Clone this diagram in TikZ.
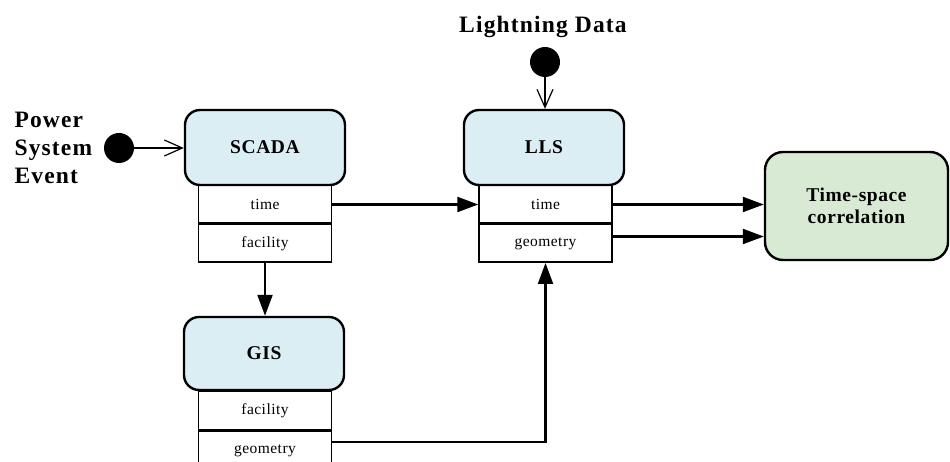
\documentclass[tikz,border=0pt]{standalone}
\usepackage{fontspec}
\setmainfont[LetterSpace=3]{Liberation Serif}
\newfontfamily\labelfont[LetterSpace=5]{Liberation Serif}
\usetikzlibrary{arrows.meta,calc}
\definecolor{boxblue}{HTML}{DAEEF3}
\definecolor{boxgreen}{HTML}{D8EAD3}
\begin{document}
\begin{tikzpicture}[x=1pt,y=-1pt,
 statebox/.style={draw, line width=2.4pt, rounded corners=15pt, fill=boxblue, minimum width=160pt, minimum height=75pt, inner sep=0pt, font=\bfseries\fontsize{19.5}{22}\selectfont},
 field/.style={draw, line width=1.5pt, fill=white, minimum width=133pt, minimum height=37.5pt, inner sep=0pt, font=\fontsize{15.5}{17}\selectfont},
 flow/.style={line width=2.2pt, -{Triangle[length=21pt,width=15pt]}},
 startdot/.style={circle, fill=black, minimum size=30pt, inner sep=0pt},
 trig/.style={line width=1.2pt, -{Straight Barb[length=18pt,width=16pt]}},
 biglabel/.style={font=\labelfont\bfseries\fontsize{23.5}{28}\selectfont}
]
\useasboundingbox (0,0) rectangle (950,462);
% SCADA
\node[field, anchor=north] (st) at (265,185) {time};
\node[field, anchor=north] (sf) at (st.south) {facility};
\node[statebox] (scada) at (265,147.5) {SCADA};
% LLS
\node[field, anchor=north] (lt) at (545.5,185) {time};
\node[field, anchor=north] (lg) at (lt.south) {geometry};
\node[statebox] (lls) at (544,147.5) {LLS};
% GIS
\node[field, anchor=north, minimum height=39pt] (gf) at (265,390) {facility};
\node[field, anchor=north, minimum height=39pt] (gg) at (gf.south) {geometry};
\node[statebox, minimum height=73pt] (gis) at (264,353.5) {GIS};
% Time-space correlation
\node[statebox, fill=boxgreen, minimum width=183pt, minimum height=108pt, align=center, rounded corners=18pt] (tsc) at (856.5,206) {Time-space\\correlation};
% initial events
\node[biglabel, align=left, anchor=west] (pse) at (11,148) {Power\\System\\Event};
\node[startdot] (pdot) at (119,148) {};
\node[biglabel] (ld) at (543,27) {Lightning Data};
\node[startdot] (ldot) at (545,62) {};
\draw[trig] (pdot) -- (pdot -| scada.west);
\draw[trig] (ldot) -- (ldot |- lls.north);
% flows
\draw[flow] (st.east) -- (st.east -| lt.west);
\draw[flow] (sf.south) -- (sf.south |- gis.north);
\draw[flow] (lt.east) -- (lt.east -| tsc.west);
\draw[flow] ([yshift=7pt]lg.east) -- ([yshift=7pt]lg.east -| tsc.west);
\draw[flow] ([yshift=9pt]gg.east) -| (lg.south);
\end{tikzpicture}
\end{document}
